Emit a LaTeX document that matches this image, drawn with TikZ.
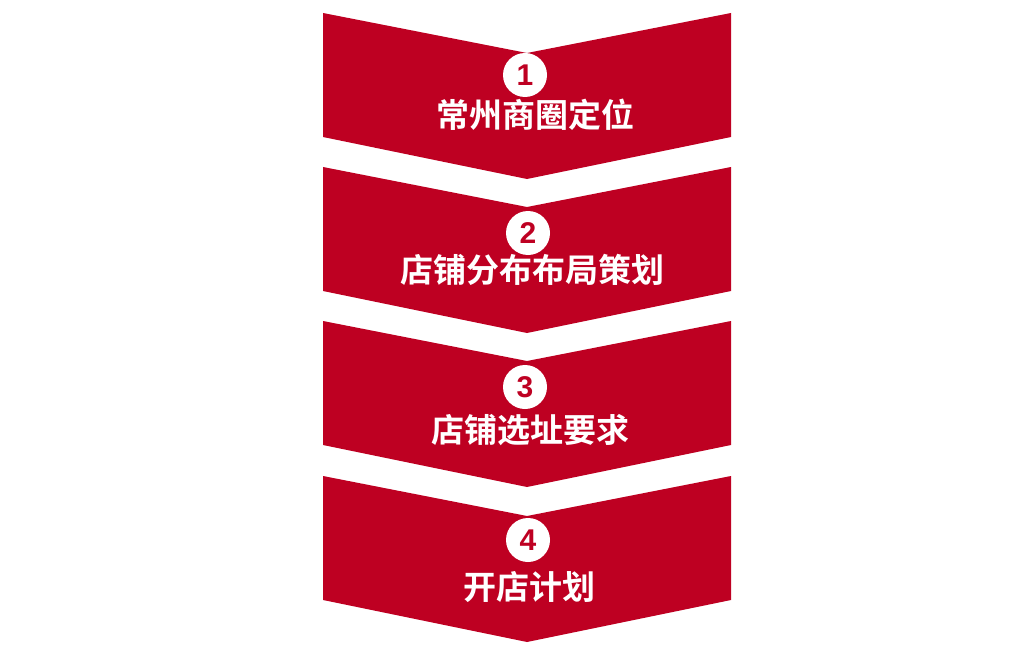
\documentclass[tikz,border=0pt]{standalone}
\usepackage{fontspec}
\setmainfont{Liberation Sans}
\newfontfamily\cjk{Noto Sans CJK SC}[BoldFont={* Bold}]
\definecolor{chevred}{HTML}{BE0022}
\begin{document}
\begin{tikzpicture}[x=1pt,y=-1pt,
  chev/.style={fill=chevred,draw=none},
  numcirc/.style={circle,fill=white,minimum size=44pt,inner sep=0pt,text=chevred,font=\fontsize{30}{30}\selectfont\bfseries},
  lbl/.style={text=white,font=\cjk\fontsize{33}{33}\selectfont\bfseries,inner sep=0pt}]
\useasboundingbox (0,0) rectangle (1024,655);
\foreach \t in {13,167,321,476}{
  \fill[chev] (323,\t) -- (527,\t+40) -- (731,\t) -- (731,\t+124) -- (527,\t+166) -- (323,\t+124) -- cycle;
}
\node[numcirc] (c1) at (525,75) {1};
\node[numcirc] (c2) at (528,233) {2};
\node[numcirc] (c3) at (525,387) {3};
\node[numcirc] (c4) at (528,540) {4};
\node[lbl] (t1) at (535,115) {常州商圈定位};
\node[lbl] (t2) at (532,270) {店铺分布布局策划};
\node[lbl] (t3) at (530,430) {店铺选址要求};
\node[lbl] (t4) at (529,587) {开店计划};
\end{tikzpicture}
\end{document}
